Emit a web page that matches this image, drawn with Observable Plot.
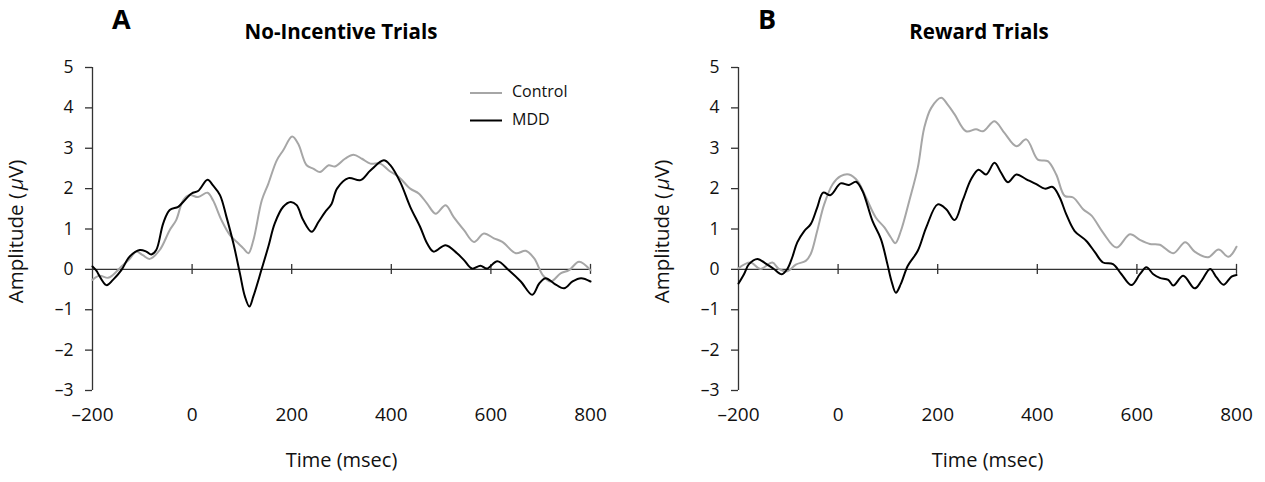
<!DOCTYPE html>
<html><head><meta charset="utf-8">
<script src="https://cdn.jsdelivr.net/npm/d3@7"></script>
<script src="https://cdn.jsdelivr.net/npm/@observablehq/plot@0.6"></script>
<style>
html,body{margin:0;padding:0;background:#fff;overflow:hidden}
#wrap{position:relative;width:1265px;height:482px;font-family:"Open Sans",sans-serif}
#wrap svg{position:absolute;top:0}
</style></head><body><div id="wrap"></div>
<script>
// ---- data ----
const xTicks = [-200, 0, 200, 400, 600, 800];
const yTicks = [-3, -2, -1, 0, 1, 2, 3, 4, 5];
const groups = ["Control", "MDD"];
const groupColors = ["#a6a6a6", "#000000"];
const panelLetters = ["A", "B"];
const panelTitles = ["No-Incentive Trials", "Reward Trials"];
const xLabel = "Time (msec)";

// [time (ms), amplitude (µV)]
const noIncentiveControl = [[-200,-0.26],[-186,-0.16],[-169,-0.21],[-159,-0.14],[-142,0.07],[-126,0.25],[-112,0.44],[-99,0.35],[-85,0.26],[-65,0.48],[-45,0.97],[-32,1.22],[-18,1.71],[-5,1.84],[12,1.79],[31,1.90],[42,1.71],[59,1.22],[76,0.85],[93,0.64],[103,0.52],[113,0.40],[123,0.72],[140,1.71],[153,2.12],[170,2.70],[183,2.95],[201,3.29],[213,3.11],[230,2.58],[244,2.49],[257,2.41],[274,2.58],[287,2.55],[307,2.74],[324,2.84],[341,2.74],[358,2.62],[378,2.62],[395,2.45],[415,2.29],[438,2.0],[455,1.88],[472,1.63],[489,1.38],[509,1.59],[525,1.30],[546,0.97],[566,0.68],[586,0.89],[606,0.77],[623,0.68],[650,0.40],[670,0.46],[687,0.27],[704,-0.14],[720,-0.30],[740,-0.10],[757,-0.02],[777,0.19],[800,-0.02]];
const noIncentiveMDD = [[-200,0.07],[-193,-0.02],[-172,-0.39],[-159,-0.26],[-142,-0.02],[-126,0.31],[-105,0.48],[-92,0.44],[-82,0.37],[-72,0.48],[-58,1.14],[-45,1.47],[-28,1.55],[-18,1.67],[-1,1.88],[12,1.94],[31,2.22],[42,2.08],[56,1.84],[69,1.30],[83,0.64],[96,-0.10],[106,-0.67],[115,-0.92],[123,-0.67],[140,0.02],[153,0.56],[166,1.14],[183,1.55],[198,1.67],[210,1.59],[223,1.22],[240,0.93],[254,1.18],[267,1.42],[280,1.62],[291,2.0],[314,2.26],[338,2.21],[358,2.45],[385,2.70],[398,2.58],[418,2.16],[438,1.55],[458,1.05],[472,0.64],[485,0.44],[509,0.60],[532,0.40],[546,0.23],[562,0.02],[579,0.09],[592,0.02],[613,0.20],[636,-0.02],[660,-0.30],[683,-0.63],[697,-0.35],[710,-0.22],[727,-0.35],[747,-0.47],[764,-0.30],[781,-0.22],[800,-0.30]];
const rewardControl = [[-200,0.03],[-176,0.17],[-156,0.01],[-132,0.17],[-119,0.01],[-102,-0.05],[-85,0.12],[-65,0.21],[-55,0.38],[-42,0.95],[-28,1.61],[-11,2.11],[5,2.31],[22,2.35],[39,2.19],[56,1.78],[76,1.28],[93,1.04],[106,0.79],[115,0.65],[126,0.95],[143,1.70],[160,2.52],[173,3.51],[187,4.0],[207,4.25],[220,4.08],[234,3.84],[257,3.42],[277,3.47],[291,3.42],[314,3.67],[334,3.38],[358,3.05],[378,3.22],[401,2.72],[421,2.68],[438,2.35],[455,1.82],[472,1.78],[492,1.49],[509,1.33],[532,0.91],[559,0.54],[586,0.87],[606,0.73],[626,0.63],[646,0.61],[673,0.40],[697,0.67],[716,0.44],[743,0.30],[764,0.49],[784,0.31],[800,0.56]];
const rewardMDD = [[-200,-0.35],[-189,-0.12],[-179,0.13],[-162,0.26],[-146,0.15],[-129,0.01],[-113,-0.12],[-102,0.01],[-92,0.30],[-82,0.67],[-68,0.95],[-55,1.12],[-42,1.53],[-30,1.90],[-15,1.84],[5,2.13],[22,2.09],[36,2.17],[49,1.94],[69,1.20],[86,0.75],[99,0.13],[107,-0.28],[116,-0.58],[126,-0.36],[140,0.09],[160,0.46],[177,1.04],[200,1.61],[217,1.49],[234,1.22],[250,1.70],[267,2.23],[282,2.47],[297,2.35],[314,2.64],[327,2.40],[341,2.16],[358,2.35],[378,2.23],[398,2.11],[415,2.0],[431,2.04],[445,1.78],[458,1.37],[475,0.95],[498,0.71],[516,0.42],[532,0.17],[552,0.13],[569,-0.12],[589,-0.39],[606,-0.12],[619,0.05],[633,-0.12],[646,-0.21],[663,-0.26],[673,-0.40],[693,-0.16],[716,-0.47],[730,-0.28],[747,0.01],[760,-0.20],[774,-0.38],[790,-0.18],[800,-0.14]];

// ---- drawing ----
const fmt = d => d < 0 ? "\u2013" + Math.abs(d) : String(d);
const FONT = "'Open Sans', sans-serif";
const AXIS = "#333";

function panel(i, control, mdd, left, width) {
  const data = [
    ...control.map(([t, v]) => ({t, v, g: groups[0]})),
    ...mdd.map(([t, v]) => ({t, v, g: groups[1]}))
  ];
  const mL = 92, plotW = 498, mT = 67, mB = 92, H = 482;
  const svg = Plot.plot({
    width, height: H,
    marginLeft: mL, marginRight: width - mL - plotW, marginTop: mT, marginBottom: mB,
    style: {fontFamily: FONT, background: "transparent", color: "#111", overflow: "visible"},
    x: {domain: [xTicks[0], xTicks[xTicks.length - 1]]},
    y: {domain: [yTicks[0], yTicks[yTicks.length - 1]]},
    color: {domain: groups, range: groupColors},
    marks: [
      Plot.axisY({ticks: yTicks, tickSize: 7, tickPadding: 12, fontSize: 17.5, tickFormat: fmt, label: null, stroke: AXIS, strokeWidth: 1.3}),
      Plot.axisX({ticks: xTicks, tickSize: 0, tickPadding: 17, fontSize: 19, tickFormat: fmt, label: null}),
      Plot.ruleX([xTicks[0]], {stroke: AXIS, strokeWidth: 1.3}),
      Plot.ruleY([0], {stroke: AXIS, strokeWidth: 1.3}),
      Plot.ruleX(xTicks.slice(1), {x: d => d, y1: 0, y2: 0, insetTop: -5, insetBottom: -5, stroke: AXIS, strokeWidth: 1.3}),
      Plot.line(data, {x: "t", y: "v", z: "g", stroke: "g", strokeWidth: 2, curve: "catmull-rom"}),
      Plot.text([xLabel], {frameAnchor: "bottom", dy: 76, fontSize: 20, fill: "#111"})
    ]
  });
  svg.style.left = left + "px";
  const s = d3.select(svg);
  // y-axis label with italic mu
  const yl = s.append("text")
    .attr("transform", `translate(${18},${mT + (H - mT - mB) / 2 + 3}) rotate(-90)`)
    .attr("text-anchor", "middle").attr("dominant-baseline", "middle")
    .attr("font-size", 20.5).attr("font-family", FONT).attr("fill", "#111");
  yl.append("tspan").text("Amplitude (");
  yl.append("tspan").attr("font-style", "italic").attr("dx", 3).text("\u03BC");
  yl.append("tspan").text("V)");
  // panel letter & title
  s.append("text").attr("x", i === 0 ? 112 : 112).attr("y", 29).attr("text-anchor", "start")
    .attr("font-size", 27).attr("font-weight", 700).attr("font-family", FONT).attr("fill", "#000")
    .text(panelLetters[i]);
  s.append("text").attr("x", i === 0 ? 341 : 333).attr("y", 39).attr("text-anchor", "middle")
    .attr("font-size", 20.5).attr("font-weight", 700).attr("font-family", FONT).attr("fill", "#000")
    .text(panelTitles[i]);
  return svg;
}

const wrap = document.getElementById("wrap");
const svgA = panel(0, noIncentiveControl, noIncentiveMDD, 0, 632);
const svgB = panel(1, rewardControl, rewardMDD, 646, 619);
wrap.appendChild(svgA);
wrap.appendChild(svgB);

// legend in panel A
const lg = d3.select(svgA);
groups.forEach((g, k) => {
  const y = 93 + k * 27.5;
  lg.append("line").attr("x1", 470).attr("x2", 502).attr("y1", y).attr("y2", y)
    .attr("stroke", groupColors[k]).attr("stroke-width", 2);
  lg.append("text").attr("x", 512).attr("y", y).attr("text-anchor", "start").attr("dominant-baseline", "middle")
    .attr("font-size", 16).attr("font-family", FONT).attr("fill", "#111").text(g);
});
</script>
</body></html>
